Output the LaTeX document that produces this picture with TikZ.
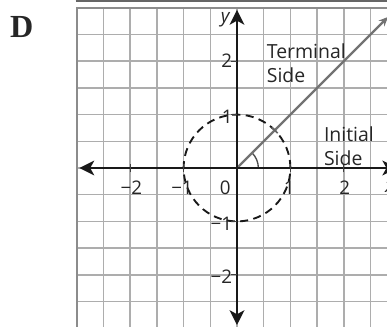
\documentclass[tikz,border=0pt]{standalone}
\usepackage{fontspec}
\setmainfont{Open Sans}
\newfontfamily\letterfont{Liberation Serif}
\usetikzlibrary{arrows.meta, calc}

\begin{document}
\begin{tikzpicture}[x=1.4cm, y=1.4cm,
    every node/.style={font=\fontsize{14}{17}\selectfont, text=black!85, inner sep=1pt},
    gridline/.style={draw=black!32, line width=1.1pt},
    frame/.style={draw=black!45, line width=1.8pt},
    axis/.style={draw=black!90, line width=1.7pt, {Stealth[length=11pt, width=11pt, inset=3pt]}-{Stealth[length=11pt, width=11pt, inset=3pt]}},
    ray/.style={draw=black!55, line width=1.6pt, -{Stealth[length=7pt, width=6pt]}},
    unitcirc/.style={draw=black!90, line width=1.4pt, dash pattern=on 6pt off 4pt},
    tickmark/.style={draw=black!75, line width=0.9pt},
    side/.style={align=left, anchor=west, font=\fontsize{14.5}{18}\selectfont}]

  \clip (-4.438,-2.959) rectangle (2.809,3.146);

  % grid and frame
  \draw[gridline] (-3,-3) grid[step=0.5] (3,3);
  \draw[frame] (-3,-3) rectangle (3,3);
  \draw[black!60, line width=2pt] (-3.02,3.13) -- (3.1,3.13);

  \coordinate (O)  at (0,0);
  \coordinate (xl) at (-2.95,0);
  \coordinate (xr) at (3.0,0);
  \coordinate (yb) at (0,-2.94);
  \coordinate (yt) at (0,2.96);
  \coordinate (tip) at (2.83,2.83);
  \coordinate (hit) at (45:1);

  % unit circle, angle and terminal ray
  \draw[unitcirc] (O) circle (1);
  \draw[black!70, line width=1pt] (0.4,0) arc (0:45:0.4);
  \draw[ray] (O) -- (tip);
  \draw[tickmark, black!60, line width=1.2pt] ($(hit)+(-0.055,0.055)$) -- ($(hit)+(0.055,-0.055)$);

  % axes
  \draw[axis] (xl) -- (xr);
  \draw[axis] (yb) -- (yt);
  \foreach \k in {-2,-1,1,2} {
    \draw[tickmark] (\k,-0.08) -- (\k,0.08);
    \draw[tickmark] (-0.12,\k) -- (0,\k);
  }

  % axis labels
  \node (xm2) at (-1.98,-0.37) {−2};
  \node (xm1) at (-1.03,-0.37) {−1};
  \node (x0)  at (-0.22,-0.37) {0};
  \node (x1)  at (0.98,-0.37) {1};
  \node (x2)  at (2.02,-0.37) {2};
  \node[anchor=east] (y2)  at (-0.06,2.0) {2};
  \node[anchor=east] (y1)  at (-0.05,0.96) {1};
  \node[anchor=east] (ym1) at (-0.06,-1.05) {−1};
  \node[anchor=east] (ym2) at (-0.06,-2.04) {−2};
  \node (ylab) at (-0.22,2.77) {\itshape y};
  \node (xlab) at (2.86,-0.36) {\itshape x};

  \node[side] (term) at (0.53,1.97) {Terminal\\Side};
  \node[side] (init) at (1.6,0.41) {Initial\\Side};

  \node (lettr) at (-4.03,2.64) {\letterfont\bfseries\fontsize{24}{28}\selectfont D};
\end{tikzpicture}
\end{document}
